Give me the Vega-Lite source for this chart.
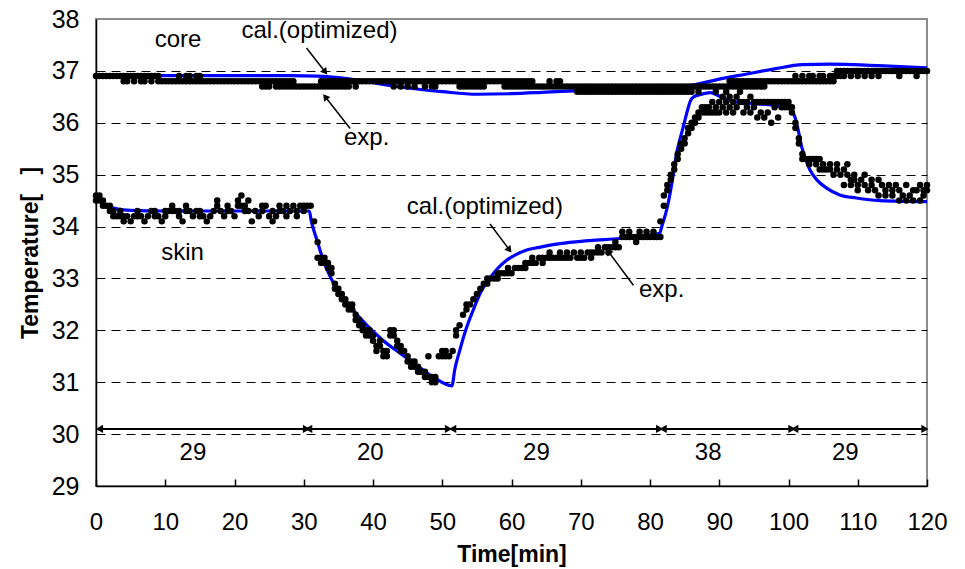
{
"$schema":"https://vega.github.io/schema/vega-lite/v6.json",
"width":831,"height":467,
"autosize":{"type":"none"},
"padding":{"left":96,"top":19,"right":38,"bottom":83},
"background":"white",
"config":{
 "view":{"stroke":"#8c8c8c","strokeWidth":2},
 "font":"Liberation Sans",
 "axis":{"labelFont":"Liberation Sans","labelFontSize":24,"labelColor":"black","titleFont":"Liberation Sans","titleFontSize":23,"titleFontWeight":"bold","titleColor":"black","domainColor":"black","domainWidth":1.5,"tickColor":"black","labelFlush":false,"labelOverlap":false},
 "axisX":{"grid":false,"tickSize":-7,"tickWidth":1.5,"labelPadding":31,"labelBaseline":"top","titleY":68,"titleBaseline":"middle"},
 "axisY":{"ticks":false,"labelPadding":17,"labelFontSize":25,"grid":true,"gridDash":[9,6],"gridWidth":1,"titleAngle":-90,"titleX":-66,"titleY":233.5,"titleBaseline":"middle","titleAlign":"center"}
},
"datasets":{
"exp":[
{"t":0,"c":36.9,"s":34.6,"s2":34.5},{"t":0.5,"c":36.9,"s":34.5,"s2":34.6},{"t":1,"c":36.9,"s":34.4,"s2":34.5},{"t":1.5,"c":36.9,"s":34.4},
{"t":2,"c":36.9,"s":34.3,"s2":34.4},{"t":2.5,"c":36.9,"s":34.2,"s2":34.3},{"t":3,"c":36.9,"s":34.2},{"t":3.5,"c":36.9,"s":34.2,"s2":34.3},
{"t":4,"c":36.9,"c2":36.8,"s":34.1,"s2":34.2},{"t":4.5,"c":36.9,"c2":36.8,"s":34.2},{"t":5,"c":36.9,"s":34.1},{"t":5.5,"c":36.9,"c2":36.8,"s":34.2},
{"t":6,"c":36.9,"s":34.3,"s2":34.2},{"t":6.5,"c":36.9,"c2":36.8,"s":34.2},{"t":7,"c":36.9,"c2":36.8,"s":34.1},{"t":7.5,"c":36.9,"s":34.2},
{"t":8,"c":36.9,"c2":36.8,"s":34.3},{"t":8.5,"c":36.9,"s":34.2,"s2":34.3},{"t":9,"c":36.9,"c2":36.8,"s":34.2},{"t":9.5,"c":36.8,"s":34.1},
{"t":10,"c":36.8,"s":34.2,"s2":34.3},{"t":10.5,"c":36.8,"s":34.3},{"t":11,"c":36.8,"s":34.4,"s2":34.3},{"t":11.5,"c":36.8,"s":34.3},
{"t":12,"c":36.8,"c2":36.9,"s":34.2,"s2":34.3},{"t":12.5,"c":36.8,"s":34.1},{"t":13,"c":36.8,"c2":36.9,"s":34.3,"s2":34.4},{"t":13.5,"c":36.8,"c2":36.9,"s":34.3},
{"t":14,"c":36.8,"s":34.2},{"t":14.5,"c":36.8,"c2":36.9,"s":34.3},{"t":15,"c":36.8,"c2":36.9,"s":34.3,"s2":34.2},{"t":15.5,"c":36.8,"s":34.2},
{"t":16,"c":36.8,"s":34.1},{"t":16.5,"c":36.8,"s":34.2},{"t":17,"c":36.8,"s":34.3},{"t":17.5,"c":36.8,"s":34.4,"s2":34.5},
{"t":18,"c":36.8,"s":34.3},{"t":18.5,"c":36.8,"s":34.2},{"t":19,"c":36.8,"s":34.4,"s2":34.3},{"t":19.5,"c":36.8,"s":34.3},
{"t":20,"c":36.8,"s":34.2},{"t":20.5,"c":36.8,"s":34.5,"s2":34.4},{"t":21,"c":36.8,"s":34.6,"s2":34.4},{"t":21.5,"c":36.8,"s":34.4,"s2":34.3},
{"t":22,"c":36.8,"s":34.3,"s2":34.5},{"t":22.5,"c":36.8,"s":34.1},{"t":23,"c":36.8,"s":34.3},{"t":23.5,"c":36.8,"s":34.2},
{"t":24,"c":36.8,"c2":36.7,"s":34.3,"s2":34.4},{"t":24.5,"c":36.8,"c2":36.7,"s":34.4},{"t":25,"c":36.8,"c2":36.7,"s":34.2},{"t":25.5,"c":36.8,"s":34.3,"s2":34.1},
{"t":26,"c":36.8,"c2":36.7,"s":34.2},{"t":26.5,"c":36.8,"c2":36.7,"s":34.4,"s2":34.3},{"t":27,"c":36.8,"c2":36.7,"s":34.3},{"t":27.5,"c":36.8,"c2":36.7,"s":34.2,"s2":34.4},
{"t":28,"c":36.8,"c2":36.7,"s":34.3},{"t":28.5,"c":36.8,"c2":36.7,"s":34.4},{"t":29,"c":36.7,"s":34.2,"s2":34.3},{"t":29.5,"c":36.7,"s":34.4},
{"t":30,"c":36.7,"s":34.4,"s2":34.3},{"t":30.5,"c":36.7,"s":34.4},{"t":31,"c":36.7,"s":34.4},{"t":31.5,"c":36.7,"s":34.1},
{"t":32,"c":36.7,"s":33.7,"s2":33.4},{"t":32.5,"c":36.8,"c2":36.7,"s":33.4,"s2":33.3},{"t":33,"c":36.8,"c2":36.7,"s":33.3,"s2":33.4},{"t":33.5,"c":36.8,"c2":36.7,"s":33.2,"s2":33.3},
{"t":34,"c":36.8,"c2":36.7,"s":33.1,"s2":33.2},{"t":34.5,"c":36.8,"c2":36.7,"s":32.9,"s2":32.8},{"t":35,"c":36.8,"c2":36.7,"s":32.8,"s2":32.7},{"t":35.5,"c":36.8,"c2":36.7,"s":32.7,"s2":32.6},
{"t":36,"c":36.8,"c2":36.7,"s":32.6,"s2":32.5},{"t":36.5,"c":36.8,"c2":36.7,"s":32.5,"s2":32.4},{"t":37,"c":36.8,"s":32.4,"s2":32.5},{"t":37.5,"c":36.8,"c2":36.7,"s":32.3,"s2":32.2},
{"t":38,"c":36.8,"s":32.2,"s2":32.1},{"t":38.5,"c":36.8,"s":32.1,"s2":32.0},{"t":39,"c":36.8,"s":32.0,"s2":31.9},{"t":39.5,"c":36.8,"s":31.9,"s2":32.0},
{"t":40,"c":36.8,"s":31.8,"s2":31.9},{"t":40.5,"c":36.8,"s":31.7,"s2":31.6},{"t":41,"c":36.8,"s":31.7,"s2":31.8},{"t":41.5,"c":36.8,"s":31.6,"s2":31.5},
{"t":42,"c":36.8,"s":31.5,"s2":31.6},{"t":42.5,"c":36.8,"s":32.0,"s2":31.9},{"t":43,"c":36.8,"c2":36.7,"s":31.9,"s2":32.0},{"t":43.5,"c":36.8,"s":31.8,"s2":31.7},
{"t":44,"c":36.8,"c2":36.7,"s":31.7,"s2":31.6},{"t":44.5,"c":36.8,"s":31.6},{"t":45,"c":36.8,"c2":36.7,"s":31.5,"s2":31.4},{"t":45.5,"c":36.8,"s":31.4,"s2":31.3},
{"t":46,"c":36.8,"c2":36.7,"s":31.3,"s2":31.4},{"t":46.5,"c":36.8,"s":31.3,"s2":31.2},{"t":47,"c":36.8,"s":31.2},{"t":47.5,"c":36.8,"c2":36.7,"s":31.2,"s2":31.1},
{"t":48,"c":36.8,"s":31.1,"s2":31.5},{"t":48.5,"c":36.8,"c2":36.7,"s":31.0,"s2":31.1},{"t":49,"c":36.8,"c2":36.7,"s":31.0,"s2":31.1},{"t":49.5,"c":36.8,"s":31.5},
{"t":50,"c":36.8,"s":31.6,"s2":31.5},{"t":50.5,"c":36.8,"s":31.5,"s2":31.6},{"t":51,"c":36.8,"s":31.5},{"t":51.5,"c":36.8,"s":31.6},
{"t":52,"c":36.8,"s":31.9,"s2":32.0},{"t":52.5,"c":36.8,"c2":36.7,"s":32.1},{"t":53,"c":36.8,"c2":36.7,"s":32.3},{"t":53.5,"c":36.8,"c2":36.7,"s":32.4,"s2":32.5},
{"t":54,"c":36.8,"c2":36.7,"s":32.5},{"t":54.5,"c":36.8,"c2":36.7,"s":32.6},{"t":55,"c":36.8,"c2":36.7,"s":32.7},{"t":55.5,"c":36.8,"c2":36.7,"s":32.8},
{"t":56,"c":36.8,"c2":36.7,"s":32.9},{"t":56.5,"c":36.8,"s":32.9,"s2":33.0},{"t":57,"c":36.8,"s":33.0},{"t":57.5,"c":36.8,"s":33.0},
{"t":58,"c":36.8,"s":33.0,"s2":33.1},{"t":58.5,"c":36.8,"s":33.1},{"t":59,"c":36.8,"c2":36.7,"s":33.1},{"t":59.5,"c":36.8,"c2":36.7,"s":33.1,"s2":33.2},
{"t":60,"c":36.8,"c2":36.7,"s":33.1},{"t":60.5,"c":36.8,"c2":36.7,"s":33.2},{"t":61,"c":36.8,"c2":36.7,"s":33.2},{"t":61.5,"c":36.8,"c2":36.7,"s":33.2},
{"t":62,"c":36.8,"c2":36.7,"s":33.3,"s2":33.2},{"t":62.5,"c":36.8,"c2":36.7,"s":33.3},{"t":63,"c":36.7,"c2":36.8,"s":33.3,"s2":33.4},{"t":63.5,"c":36.7,"s":33.3},
{"t":64,"c":36.7,"s":33.4},{"t":64.5,"c":36.7,"s":33.4,"s2":33.3},{"t":65,"c":36.7,"s":33.4},{"t":65.5,"c":36.7,"c2":36.8,"s":33.5,"s2":33.4},
{"t":66,"c":36.7,"s":33.4},{"t":66.5,"c":36.7,"c2":36.8,"s":33.4},{"t":67,"c":36.7,"c2":36.8,"s":33.5,"s2":33.4},{"t":67.5,"c":36.7,"s":33.4},
{"t":68,"c":36.7,"s":33.4,"s2":33.5},{"t":68.5,"c":36.7,"s":33.4},{"t":69,"c":36.7,"s":33.5},{"t":69.5,"c":36.7,"c2":36.6,"s":33.4},
{"t":70,"c":36.7,"c2":36.6,"s":33.5,"s2":33.4},{"t":70.5,"c":36.7,"c2":36.6,"s":33.4},{"t":71,"c":36.7,"c2":36.6,"s":33.5},{"t":71.5,"c":36.7,"c2":36.6,"s":33.5,"s2":33.4},
{"t":72,"c":36.7,"c2":36.6,"s":33.5},{"t":72.5,"c":36.7,"c2":36.6,"s":33.6,"s2":33.5},{"t":73,"c":36.7,"c2":36.6,"s":33.5},{"t":73.5,"c":36.7,"c2":36.6,"s":33.6},
{"t":74,"c":36.7,"c2":36.6,"s":33.6,"s2":33.5},{"t":74.5,"c":36.7,"c2":36.6,"s":33.6},{"t":75,"c":36.7,"c2":36.6,"s":33.7,"s2":33.6},{"t":75.5,"c":36.7,"c2":36.6,"s":33.6},
{"t":76,"c":36.7,"c2":36.6,"s":33.8,"s2":33.9},{"t":76.5,"c":36.7,"c2":36.6,"s":33.8},{"t":77,"c":36.7,"c2":36.6,"s":33.8,"s2":33.9},{"t":77.5,"c":36.7,"c2":36.6,"s":33.8},
{"t":78,"c":36.7,"c2":36.6,"s":33.8,"s2":33.7},{"t":78.5,"c":36.7,"c2":36.6,"s":33.9,"s2":33.8},{"t":79,"c":36.7,"c2":36.6,"s":33.8},{"t":79.5,"c":36.7,"c2":36.6,"s":33.8,"s2":33.9},
{"t":80,"c":36.7,"c2":36.6,"s":33.8},{"t":80.5,"c":36.7,"c2":36.6,"s":33.9,"s2":33.8},{"t":81,"c":36.7,"c2":36.6,"s":33.8},{"t":81.5,"c":36.7,"c2":36.6,"s":33.8,"s2":34.1},
{"t":82,"c":36.7,"c2":36.6,"s":34.4,"s2":34.6},{"t":82.5,"c":36.7,"c2":36.6,"s":34.7,"s2":34.8},{"t":83,"c":36.7,"c2":36.6,"s":34.9,"s2":35.0},{"t":83.5,"c":36.7,"c2":36.6,"s":35.1,"s2":35.2},
{"t":84,"c":36.7,"c2":36.6,"s":35.3,"s2":35.4},{"t":84.5,"c":36.7,"c2":36.6,"s":35.5,"s2":35.6},{"t":85,"c":36.7,"c2":36.6,"s":35.6,"s2":35.7},{"t":85.5,"c":36.7,"c2":36.6,"s":35.8,"s2":35.9},
{"t":86,"c":36.7,"c2":36.6,"s":35.9,"s2":36.0},{"t":86.5,"c":36.7,"s":36.0,"s2":36.1},{"t":87,"c":36.7,"c2":36.6,"s":36.1,"s2":36.2},{"t":87.5,"c":36.7,"s":36.2,"s2":36.3},
{"t":88,"c":36.7,"s":36.3,"s2":36.2},{"t":88.5,"c":36.7,"s":36.3,"s2":36.2},{"t":89,"c":36.7,"s":36.4,"s2":36.2},{"t":89.5,"c":36.7,"c2":36.6,"s":36.3,"s2":36.2},
{"t":90,"c":36.7,"s":36.2,"s2":36.4},{"t":90.5,"c":36.7,"s":36.3,"s2":36.5},{"t":91,"c":36.7,"c2":36.6,"s":36.4,"s2":36.2},{"t":91.5,"c":36.8,"c2":36.7,"s":36.3,"s2":36.5},
{"t":92,"c":36.8,"c2":36.7,"s":36.2,"s2":36.4},{"t":92.5,"c":36.8,"c2":36.7,"s":36.5,"s2":36.3},{"t":93,"c":36.8,"c2":36.7,"s":36.4,"s2":36.6},{"t":93.5,"c":36.8,"c2":36.7,"s":36.2,"s2":36.4},
{"t":94,"c":36.8,"c2":36.7,"s":36.4,"s2":36.3},{"t":94.5,"c":36.8,"c2":36.7,"s":36.2,"s2":36.5},{"t":95,"c":36.8,"c2":36.7,"s":36.3,"s2":36.4},{"t":95.5,"c":36.8,"c2":36.7,"s":36.1,"s2":36.4},
{"t":96,"c":36.8,"c2":36.7,"s":36.2,"s2":36.4},{"t":96.5,"c":36.8,"c2":36.7,"s":36.1,"s2":36.4},{"t":97,"c":36.8,"s":36.2,"s2":36.4},{"t":97.5,"c":36.8,"s":36.4,"s2":36.0},
{"t":98,"c":36.8,"s":36.4,"s2":36.3},{"t":98.5,"c":36.8,"s":36.4,"s2":36.1},{"t":99,"c":36.8,"s":36.4,"s2":36.3},{"t":99.5,"c":36.8,"s":36.4,"s2":36.3},
{"t":100,"c":36.8,"s":36.4,"s2":36.3},{"t":100.5,"c":36.8,"s":36.2,"s2":36.3},{"t":101,"c":36.8,"c2":36.9,"s":35.9,"s2":36.0},{"t":101.5,"c":36.8,"s":35.6,"s2":35.7},
{"t":102,"c":36.8,"c2":36.9,"s":35.4,"s2":35.3},{"t":102.5,"c":36.8,"s":35.3},{"t":103,"c":36.8,"c2":36.9,"s":35.3,"s2":35.2},{"t":103.5,"c":36.8,"c2":36.9,"s":35.3},
{"t":104,"c":36.8,"s":35.2,"s2":35.3},{"t":104.5,"c":36.8,"c2":36.9,"s":35.1,"s2":35.3},{"t":105,"c":36.8,"c2":36.9,"s":35.2,"s2":35.1},{"t":105.5,"c":36.8,"s":35.1},
{"t":106,"c":36.8,"c2":36.9,"s":35.1,"s2":35.2},{"t":106.5,"c":36.8,"c2":36.9,"s":35.0},{"t":107,"c":37.0,"c2":36.9,"s":35.1,"s2":35.2},{"t":107.5,"c":37.0,"c2":36.9,"s":35.0},
{"t":108,"c":37.0,"c2":36.9,"s":34.8,"s2":35.1},{"t":108.5,"c":37.0,"s":35.0,"s2":35.2},{"t":109,"c":37.0,"c2":36.9,"s":34.8,"s2":34.9},{"t":109.5,"c":37.0,"s":34.9,"s2":35.0},
{"t":110,"c":37.0,"c2":36.9,"s":34.7,"s2":34.8},{"t":110.5,"c":37.0,"s":34.9},{"t":111,"c":37.0,"c2":36.9,"s":34.8,"s2":35.0},{"t":111.5,"c":37.0,"s":34.7},
{"t":112,"c":37.0,"c2":36.9,"s":34.8,"s2":34.9},{"t":112.5,"c":37.0,"s":34.7},{"t":113,"c":37.0,"c2":36.9,"s":34.6,"s2":34.9},{"t":113.5,"c":37.0,"s":34.8},
{"t":114,"c":37.0,"s":34.7,"s2":34.6},{"t":114.5,"c":37.0,"s":34.8},{"t":115,"c":37.0,"s":34.6,"s2":34.7},{"t":115.5,"c":37.0,"s":34.8},
{"t":116,"c":37.0,"c2":36.9,"s":34.5,"s2":34.7},{"t":116.5,"c":37.0,"s":34.6},{"t":117,"c":37.0,"s":34.5,"s2":34.8},{"t":117.5,"c":37.0,"s":34.6},
{"t":118,"c":37.0,"s":34.5,"s2":34.7},{"t":118.5,"c":37.0,"c2":36.9,"s":34.7},{"t":119,"c":37.0,"s":34.5,"s2":34.8},{"t":119.5,"c":37.0,"s":34.7,"s2":34.6},
{"t":120,"c":37.0,"s":34.8,"s2":34.7}
],
"cal":[
{"k":"core","t":0,"v":36.91},{"k":"core","t":28,"v":36.91},{"k":"core","t":32,"v":36.9},{"k":"core","t":35,"v":36.87},{"k":"core","t":38,"v":36.82},{"k":"core","t":41,"v":36.75},{"k":"core","t":45,"v":36.67},{"k":"core","t":50,"v":36.6},{"k":"core","t":55,"v":36.55},{"k":"core","t":60,"v":36.56},{"k":"core","t":65,"v":36.59},{"k":"core","t":70,"v":36.62},{"k":"core","t":80,"v":36.66},{"k":"core","t":84,"v":36.68},{"k":"core","t":87,"v":36.75},{"k":"core","t":90,"v":36.84},{"k":"core","t":94,"v":36.94},{"k":"core","t":98,"v":37.04},{"k":"core","t":102,"v":37.12},{"k":"core","t":106,"v":37.13},{"k":"core","t":113,"v":37.1},{"k":"core","t":120,"v":37.06},
{"k":"skin","t":0,"v":34.55},{"k":"skin","t":1,"v":34.45},{"k":"skin","t":2,"v":34.38},{"k":"skin","t":3,"v":34.34},{"k":"skin","t":5,"v":34.31},{"k":"skin","t":10,"v":34.3},{"k":"skin","t":20,"v":34.3},{"k":"skin","t":30.8,"v":34.3},{"k":"skin","t":31.1,"v":34.1},{"k":"skin","t":31.9,"v":33.74},{"k":"skin","t":32.8,"v":33.36},{"k":"skin","t":33.8,"v":33.04},{"k":"skin","t":35,"v":32.75},{"k":"skin","t":36.7,"v":32.46},{"k":"skin","t":39.1,"v":32.1},{"k":"skin","t":41.5,"v":31.8},{"k":"skin","t":43.9,"v":31.56},{"k":"skin","t":46.3,"v":31.33},{"k":"skin","t":48.7,"v":31.1},{"k":"skin","t":51.4,"v":30.93},{"k":"skin","t":51.8,"v":31.24},{"k":"skin","t":52.5,"v":31.6},{"k":"skin","t":53.5,"v":32.05},{"k":"skin","t":54.5,"v":32.4},{"k":"skin","t":55.5,"v":32.72},{"k":"skin","t":57,"v":33.03},{"k":"skin","t":59.3,"v":33.35},{"k":"skin","t":60.5,"v":33.45},{"k":"skin","t":62.2,"v":33.55},{"k":"skin","t":64,"v":33.6},{"k":"skin","t":66.5,"v":33.66},{"k":"skin","t":71.3,"v":33.73},{"k":"skin","t":75.7,"v":33.77},{"k":"skin","t":79,"v":33.82},{"k":"skin","t":81.4,"v":33.87},{"k":"skin","t":81.7,"v":34.0},{"k":"skin","t":82.4,"v":34.32},{"k":"skin","t":82.9,"v":34.64},{"k":"skin","t":83.4,"v":35.03},{"k":"skin","t":83.8,"v":35.38},{"k":"skin","t":84.3,"v":35.67},{"k":"skin","t":84.8,"v":35.92},{"k":"skin","t":85.3,"v":36.18},{"k":"skin","t":85.8,"v":36.41},{"k":"skin","t":86.3,"v":36.5},{"k":"skin","t":87.2,"v":36.54},{"k":"skin","t":88.7,"v":36.58},{"k":"skin","t":89.6,"v":36.54},{"k":"skin","t":91.1,"v":36.44},{"k":"skin","t":93,"v":36.39},{"k":"skin","t":97.8,"v":36.34},{"k":"skin","t":100.2,"v":36.28},{"k":"skin","t":100.9,"v":36.12},{"k":"skin","t":101.4,"v":35.86},{"k":"skin","t":101.9,"v":35.54},{"k":"skin","t":102.4,"v":35.32},{"k":"skin","t":103.1,"v":35.09},{"k":"skin","t":104.1,"v":34.9},{"k":"skin","t":105.5,"v":34.74},{"k":"skin","t":107.4,"v":34.61},{"k":"skin","t":109.8,"v":34.55},{"k":"skin","t":113.2,"v":34.5},{"k":"skin","t":120,"v":34.48}
],
"notes":[
{"t":11.84,"v":37.6,"lab":"core"},{"t":12.5,"v":33.49,"lab":"skin"},{"t":32.27,"v":37.77,"lab":"cal.(optimized)"},{"t":39.08,"v":35.7,"lab":"exp."},{"t":56.15,"v":34.37,"lab":"cal.(optimized)"},{"t":81.69,"v":32.78,"lab":"exp."}
],
"arrows":[
{"kind":"cal","x1":30.4,"y1":37.44,"x2":33.1,"y2":36.98},
{"kind":"exp","x1":36.7,"y1":35.89,"x2":33.1,"y2":36.5},
{"kind":"cal","x1":56.9,"y1":34.05,"x2":59.7,"y2":33.55},
{"kind":"exp","x1":77.6,"y1":32.87,"x2":73.98,"y2":33.52}
],
"phases":[
{"a":0.5,"b":30.4,"lx":14,"lab":"29"},{"a":30.7,"b":50.9,"lx":39.6,"lab":"20"},{"a":51.5,"b":81.4,"lx":63.6,"lab":"29"},{"a":81.9,"b":100.5,"lx":88.4,"lab":"38"},{"a":100.9,"b":119.7,"lx":108.2,"lab":"29"}
]
},
"layer":[
{"data":{"name":"cal"},
 "mark":{"type":"line","color":"#0000ff","strokeWidth":3.2,"interpolate":"monotone"},
 "encoding":{
  "x":{"field":"t","type":"quantitative","scale":{"domain":[0,120],"nice":false},"title":"Time[min]","axis":{"values":[0,10,20,30,40,50,60,70,80,90,100,110,120]}},
  "y":{"field":"v","type":"quantitative","scale":{"domain":[29,38],"nice":false},"title":"Temperature[\u00a0\u00a0\u00a0]","axis":{"values":[29,30,31,32,33,34,35,36,37,38],"gridColor":{"condition":{"test":"datum.value >= 38 || datum.value <= 29","value":"transparent"},"value":"black"}}},
  "detail":{"field":"k"}
 }},
{"data":{"name":"exp"},
 "transform":[{"fold":["c","c2","s","s2"],"as":["k","v"]},{"filter":"isValid(datum.v)"}],
 "mark":{"type":"circle","size":42,"color":"black","opacity":1},
 "encoding":{
  "x":{"field":"t","type":"quantitative","title":"Time[min]"},
  "y":{"field":"v","type":"quantitative","title":"Temperature[\u00a0\u00a0\u00a0]"}
 }},
{"data":{"name":"notes"},
 "mark":{"type":"text","fontSize":24,"font":"Liberation Sans","align":"center","baseline":"middle","color":"black"},
 "encoding":{
  "x":{"field":"t","type":"quantitative","title":"Time[min]"},
  "y":{"field":"v","type":"quantitative","title":"Temperature[\u00a0\u00a0\u00a0]"},
  "text":{"field":"lab"}
 }},
{"data":{"name":"arrows"},
 "mark":{"type":"rule","color":"black","strokeWidth":1.5},
 "encoding":{
  "x":{"field":"x1","type":"quantitative","title":"Time[min]"},
  "y":{"field":"y1","type":"quantitative","title":"Temperature[\u00a0\u00a0\u00a0]"},
  "x2":{"field":"x2"},"y2":{"field":"y2"}
 }},
{"data":{"name":"arrows"},
 "transform":[{"filter":"datum.kind === 'cal'"}],
 "mark":{"type":"point","shape":"triangle-up","filled":true,"color":"black","opacity":1,"size":60,"angle":142},
 "encoding":{
  "x":{"field":"x2","type":"quantitative","title":"Time[min]"},
  "y":{"field":"y2","type":"quantitative","title":"Temperature[\u00a0\u00a0\u00a0]"}
 }},
{"data":{"name":"arrows"},
 "transform":[{"filter":"datum.kind === 'exp'"}],
 "mark":{"type":"point","shape":"triangle-up","filled":true,"color":"black","opacity":1,"size":60,"angle":322},
 "encoding":{
  "x":{"field":"x2","type":"quantitative","title":"Time[min]"},
  "y":{"field":"y2","type":"quantitative","title":"Temperature[\u00a0\u00a0\u00a0]"}
 }},
{"data":{"name":"phases"},
 "mark":{"type":"rule","color":"black","strokeWidth":2},
 "encoding":{
  "x":{"field":"a","type":"quantitative","title":"Time[min]"},
  "x2":{"field":"b"},
  "y":{"datum":30.1,"type":"quantitative"}
 }},
{"data":{"name":"phases"},
 "mark":{"type":"point","shape":"triangle-left","filled":true,"color":"black","opacity":1,"size":70},
 "encoding":{
  "x":{"field":"a","type":"quantitative","title":"Time[min]"},
  "y":{"datum":30.1,"type":"quantitative"}
 }},
{"data":{"name":"phases"},
 "mark":{"type":"point","shape":"triangle-right","filled":true,"color":"black","opacity":1,"size":70},
 "encoding":{
  "x":{"field":"b","type":"quantitative","title":"Time[min]"},
  "y":{"datum":30.1,"type":"quantitative"}
 }},
{"data":{"name":"phases"},
 "mark":{"type":"text","fontSize":24,"font":"Liberation Sans","align":"center","baseline":"middle","color":"black"},
 "encoding":{
  "x":{"field":"lx","type":"quantitative","title":"Time[min]"},
  "y":{"datum":29.63,"type":"quantitative"},
  "text":{"field":"lab"}
 }}
]
}
